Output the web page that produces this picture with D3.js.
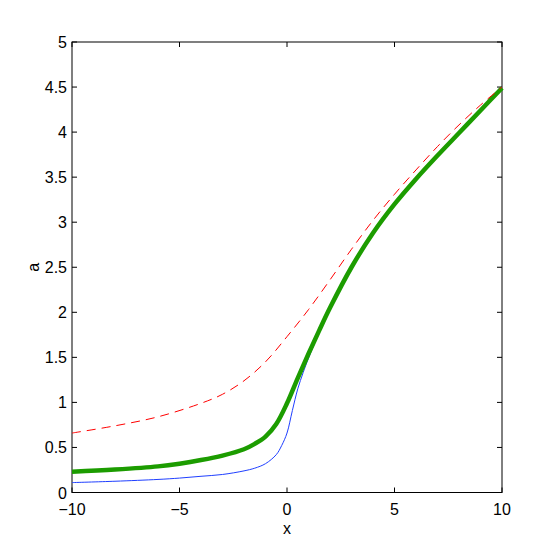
<!DOCTYPE html>
<html><head><meta charset="utf-8">
<script src="https://cdn.jsdelivr.net/npm/d3@7"></script>
<style>
html,body{margin:0;padding:0;background:#fff;}
text{font-family:"Liberation Sans Narrow","Arial Narrow","Liberation Sans",Arial,sans-serif;}
</style></head>
<body><svg id="c" width="554" height="554"></svg>
<script>
const xTicks = [-10, -5, 0, 5, 10];
const yTicks = [0, 0.5, 1, 1.5, 2, 2.5, 3, 3.5, 4, 4.5, 5];

const redX = [-10, -8, -6, -4, -3, -2, -1, 0, 1, 2, 3, 4, 5, 6, 7, 8, 9, 10];
const redY = [0.66, 0.74, 0.84, 0.99, 1.09, 1.24, 1.45, 1.73, 2.03, 2.36, 2.70, 3.02, 3.31, 3.58, 3.84, 4.08, 4.30, 4.50];

const greenX = [-10, -8, -6, -5, -4, -3, -2, -1.5, -1, -0.5, 0, 0.5, 1, 1.5, 2, 3, 4, 5, 6, 7, 8, 9, 10];
const greenY = [0.23, 0.255, 0.29, 0.32, 0.36, 0.41, 0.48, 0.54, 0.62, 0.76, 0.99, 1.27, 1.54, 1.80, 2.05, 2.50, 2.88, 3.20, 3.48, 3.74, 3.99, 4.24, 4.49];

const blueX = [-10, -8, -6, -5, -4, -3, -2, -1.5, -1, -0.5, -0.25, 0, 0.25, 0.5, 0.75, 1, 1.5, 2, 3, 4, 5, 6, 7, 8, 9, 10];
const blueY = [0.11, 0.125, 0.145, 0.16, 0.18, 0.20, 0.24, 0.27, 0.32, 0.42, 0.52, 0.66, 0.91, 1.15, 1.33, 1.49, 1.78, 2.04, 2.50, 2.88, 3.20, 3.48, 3.74, 3.99, 4.24, 4.49];

const svg = d3.select("#c");
const L = 72, R = 502, T = 42, B = 492.5;
const x = d3.scaleLinear().domain([-10, 10]).range([L, R]);
const y = d3.scaleLinear().domain([0, 5]).range([B, T]);

const fmt = d => (d < 0 ? "\u2212" + Math.abs(d) : String(d));

// axes box
const tickLen = 5;
const ax = svg.append("g").attr("stroke", "#000").attr("stroke-width", 1).attr("fill", "none");
ax.append("rect").attr("x", L).attr("y", T).attr("width", R - L).attr("height", B - T);
xTicks.forEach(t => {
  ax.append("line").attr("x1", x(t)).attr("x2", x(t)).attr("y1", B).attr("y2", B - tickLen);
  ax.append("line").attr("x1", x(t)).attr("x2", x(t)).attr("y1", T).attr("y2", T + tickLen);
});
yTicks.forEach(t => {
  ax.append("line").attr("x1", L).attr("x2", L + tickLen).attr("y1", y(t)).attr("y2", y(t));
  ax.append("line").attr("x1", R).attr("x2", R - tickLen).attr("y1", y(t)).attr("y2", y(t));
});

svg.append("g").selectAll("text").data(xTicks).join("text")
  .attr("x", d => x(d)).attr("y", B + 22).attr("text-anchor", "middle")
  .attr("font-size", 16).attr("fill", "#000").text(fmt);
svg.append("g").selectAll("text").data(yTicks).join("text")
  .attr("x", L - 5).attr("y", d => y(d) + 6).attr("text-anchor", "end")
  .attr("font-size", 16).attr("fill", "#000").text(fmt);

svg.append("text").attr("x", x(0)).attr("y", 534).attr("text-anchor", "middle")
  .attr("font-size", 16).attr("fill", "#000").text("x");
svg.append("text").attr("transform", `translate(39,${y(2.5)}) rotate(-90)`)
  .attr("text-anchor", "middle").attr("font-size", 16).attr("fill", "#000").text("a");

const line = d3.line().x(d => x(d[0])).y(d => y(d[1])).curve(d3.curveCatmullRom.alpha(0.5));
const zip = (a, b) => a.map((v, i) => [v, b[i]]);

svg.append("path").datum(zip(blueX, blueY)).attr("d", line)
  .attr("fill", "none").attr("stroke", "#1f3fff").attr("stroke-width", 1);
svg.append("path").datum(zip(greenX, greenY)).attr("d", line)
  .attr("fill", "none").attr("stroke", "#1c9c00").attr("stroke-width", 4.5);
svg.append("path").datum(zip(redX, redY)).attr("d", line)
  .attr("fill", "none").attr("stroke", "#ff0000").attr("stroke-width", 1)
  .attr("stroke-dasharray", "9,6");
</script></body></html>
